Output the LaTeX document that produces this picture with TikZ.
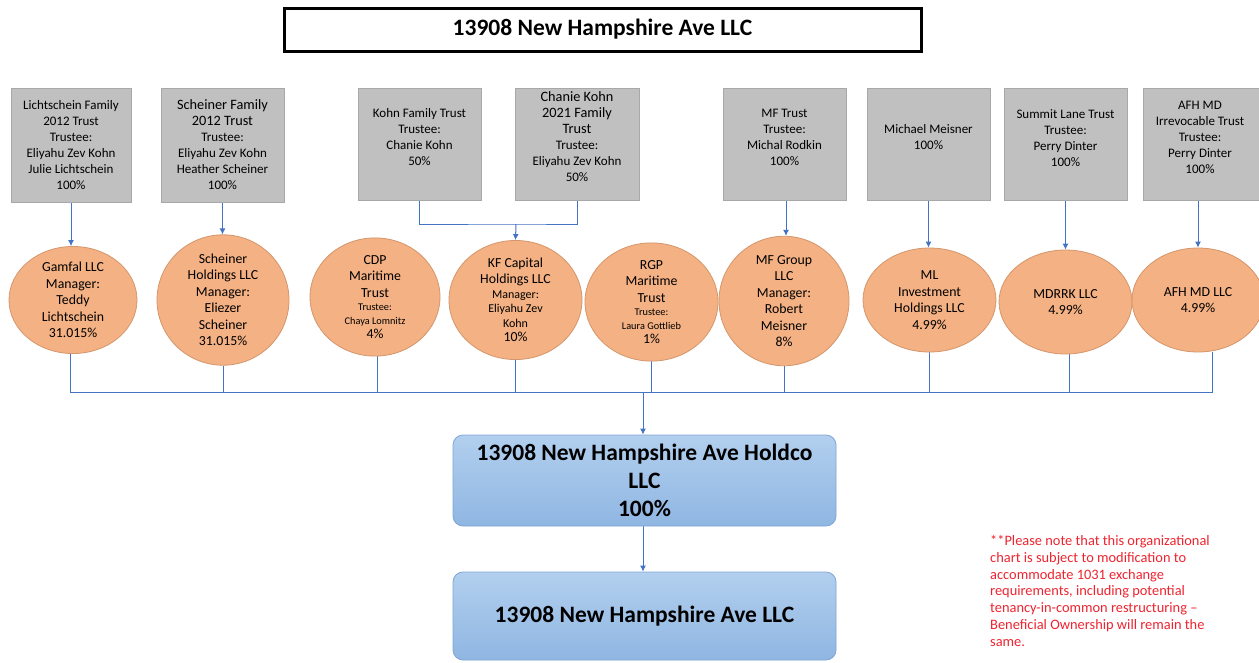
\documentclass[tikz,border=0pt]{standalone}
\usepackage{fontspec}
\setmainfont{Carlito}
\usetikzlibrary{shapes.geometric,arrows.meta,backgrounds}
\definecolor{gfill}{RGB}{192,192,192}
\definecolor{gdraw}{RGB}{168,168,168}
\definecolor{ofill}{RGB}{244,177,131}
\definecolor{odraw}{RGB}{212,150,108}
\definecolor{btop}{RGB}{178,207,238}
\definecolor{bbot}{RGB}{143,182,226}
\definecolor{bdraw}{RGB}{128,166,214}
\definecolor{lcol}{RGB}{68,114,196}
\definecolor{ncol}{RGB}{238,36,48}
\begin{document}
\begin{tikzpicture}[x=1pt,y=-1pt,
 graybox/.style={draw=gdraw, fill=gfill, line width=0.8pt, inner sep=0pt},
 gtext/.style={align=center, font=\fontsize{13}{16}\selectfont, inner sep=0pt},
 orgell/.style={ellipse, draw=odraw, fill=ofill, line width=0.8pt, inner sep=0pt, align=center, font=\fontsize{13.8}{16.5}\selectfont},
 bluebox/.style={rounded corners=10pt, draw=bdraw, top color=btop, bottom color=bbot, line width=0.8pt, align=center, inner sep=0pt, font=\fontsize{23.5}{28}\selectfont\bfseries},
 conn/.style={draw=lcol, line width=1pt},
 arr/.style={conn, -{Latex[length=6pt,width=6pt]}},
]
\clip (0,0) rectangle (1259,662);

% title
\node[draw=black, line width=3pt, minimum width=637pt, minimum height=43pt, inner sep=0pt,
  font=\fontsize{23.5}{26}\selectfont\bfseries] (title) at (602.5,29.5) {13908 New Hampshire Ave LLC};

% gray trust boxes
\node[graybox, minimum width=120pt, minimum height=114pt] (t1) at (71,145) {};
\node[gtext] (t1t) at (71,145) {Lichtschein Family\\2012 Trust\\Trustee:\\Eliyahu Zev Kohn\\Julie Lichtschein\\100\%};
\node[graybox, minimum width=123pt, minimum height=114pt] (t2) at (222.5,145) {};
\node[gtext] (t2t) at (222.5,145) {{\fontsize{14.3}{17}\selectfont Scheiner Family}\\{\fontsize{14.3}{17}\selectfont 2012 Trust}\\Trustee:\\Eliyahu Zev Kohn\\Heather Scheiner\\100\%};
\node[graybox, minimum width=123pt, minimum height=112pt] (t3) at (419.5,144) {};
\node[gtext] (t3t) at (419.5,137.5) {Kohn Family Trust\\Trustee:\\Chanie Kohn\\50\%};
\node[graybox, minimum width=124pt, minimum height=112pt] (t4) at (577,144) {};
\node[gtext] (t4t) at (577,137) {{\fontsize{14.3}{17.5}\selectfont Chanie Kohn}\\{\fontsize{14.3}{17.5}\selectfont 2021 Family}\\{\fontsize{14.3}{17.5}\selectfont Trust}\\Trustee:\\Eliyahu Zev Kohn\\50\%};
\node[graybox, minimum width=123pt, minimum height=112pt] (t5) at (784.5,144) {};
\node[gtext] (t5t) at (784.5,137.5) {MF Trust\\Trustee:\\Michal Rodkin\\100\%};
\node[graybox, minimum width=123pt, minimum height=112pt] (t6) at (928.5,144) {};
\node[gtext] (t6t) at (928.5,137) {Michael Meisner\\100\%};
\node[graybox, minimum width=123pt, minimum height=112pt] (t7) at (1065.5,144) {};
\node[gtext] (t7t) at (1065.5,138) {Summit Lane Trust\\Trustee:\\Perry Dinter\\100\%};
\node[graybox, minimum width=122pt, minimum height=112pt] (t8) at (1204,144) {};
\node[gtext] (t8t) at (1200,137) {AFH MD\\Irrevocable Trust\\Trustee:\\Perry Dinter\\100\%};

% orange entities
\node[orgell, minimum width=128pt, minimum height=104pt] (e1) at (73,300) {Gamfal LLC\\Manager:\\Teddy\\Lichtschein\\31.015\%};
\node[orgell, minimum width=132pt, minimum height=106pt] (e2) at (223,300) {Scheiner\\Holdings LLC\\Manager:\\Eliezer\\Scheiner\\31.015\%};
\node[orgell, minimum width=130pt, minimum height=104pt] (e3) at (375,297) {CDP\\Maritime\\Trust\\[-3pt]{\fontsize{10.3}{12}\selectfont Trustee:}\\[-3pt]{\fontsize{10.3}{12}\selectfont Chaya Lomnitz}\\[-2pt]4\%};
\node[orgell, minimum width=133pt, minimum height=105pt] (e4) at (515.5,300) {KF Capital\\Holdings LLC\\[-2pt]{\fontsize{12}{14}\selectfont Manager:}\\[-2pt]{\fontsize{12}{14}\selectfont Eliyahu Zev}\\[-2pt]{\fontsize{12}{14}\selectfont Kohn}\\[-2pt]10\%};
\node[orgell, minimum width=133pt, minimum height=104pt] (e5) at (651.5,302) {RGP\\Maritime\\Trust\\[-3pt]{\fontsize{10.3}{12}\selectfont Trustee:}\\[-3pt]{\fontsize{10.3}{12}\selectfont Laura Gottlieb}\\[-2pt]1\%};
\node[orgell, minimum width=130pt, minimum height=105pt] (e6) at (784,301) {MF Group\\LLC\\Manager:\\Robert\\Meisner\\8\%};
\node[orgell, minimum width=133pt, minimum height=104pt] (e7) at (929.5,300) {ML\\Investment\\Holdings LLC\\4.99\%};
\node[orgell, minimum width=133pt, minimum height=104pt] (e8) at (1065.5,302) {MDRRK LLC\\4.99\%};
\node[orgell, minimum width=132pt, minimum height=104pt] (e9) at (1198,300) {AFH MD LLC\\4.99\%};

% blue boxes
\node[bluebox, minimum width=383pt, minimum height=91pt] (h) at (644.5,480.5) {13908 New Hampshire Ave Holdco\\LLC\\100\%};
\node[bluebox, minimum width=383pt, minimum height=88pt] (b) at (644.5,616) {13908 New Hampshire Ave LLC};

% note
\node[anchor=north west, align=left, inner sep=0pt, text=ncol, font=\fontsize{14.4}{16.8}\selectfont] (note) at (990,535)
 {**Please note that this organizational\\chart is subject to modification to\\accommodate 1031 exchange\\requirements, including potential\\tenancy-in-common restructuring –\\Beneficial Ownership will remain the\\same.};

\coordinate (bus) at (643,392);
\coordinate (kbus) at (516,224);

\begin{scope}[on background layer]
\fill[white] (0,0) rectangle (1259,662);
\draw[arr] (t1.south) -- (t1.south |- e1.north);
\draw[arr] (t2.south) -- (t2.south |- e2.north);
\draw[conn] (t3.south) |- (kbus) -| (t4.south);
\draw[arr] (kbus) -- (e4.north);
\draw[arr] ([xshift=1.5pt]t5.south) -- ([xshift=1.5pt]t5.south |- e6.north);
\draw[arr] (t6.south) -- (t6.south |- e7.north);
\draw[arr] (t7.south) -- (t7.south |- e8.north);
\draw[arr] ([xshift=-6pt]t8.south) -- (e9.north);
\draw[conn] ([xshift=-3pt]e1.south) -- ([xshift=-3pt]e1.south |- bus) -- ([xshift=14pt]e9.south |- bus) -- ([xshift=14pt]e9.south);
\draw[conn] (e2.south) -- (e2.south |- bus);
\draw[conn] ([xshift=2pt]e3.south) -- ([xshift=2pt]e3.south |- bus);
\draw[conn] (e4.south) -- (e4.south |- bus);
\draw[conn] (e5.south) -- (e5.south |- bus);
\draw[conn] (e6.south) -- (e6.south |- bus);
\draw[conn] (e7.south) -- (e7.south |- bus);
\draw[conn] ([xshift=4pt]e8.south) -- ([xshift=4pt]e8.south |- bus);
\draw[arr] (bus) -- (bus |- h.north);
\draw[arr] (h.south -| bus) -- (b.north -| bus);
\end{scope}
\end{tikzpicture}
\end{document}
